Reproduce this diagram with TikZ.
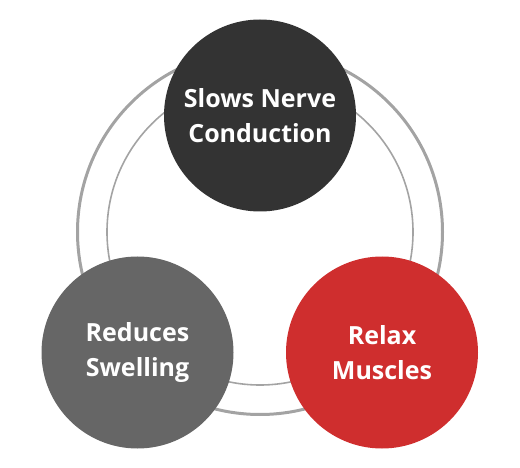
\documentclass[tikz,border=0pt]{standalone}
\usepackage{fontspec}
\setmainfont{Open Sans}
\definecolor{ringgray}{HTML}{A3A3A3}
\definecolor{topdark}{HTML}{333333}
\definecolor{leftgray}{HTML}{666666}
\definecolor{rightred}{HTML}{CF2E2E}
\begin{document}
\begin{tikzpicture}[x=1pt,y=-1pt,
  bubble/.style={circle,minimum size=192pt,inner sep=0pt,text=white,align=center,
    font=\fontsize{25}{35}\selectfont\bfseries},
  ring/.style={draw=ringgray}]
\useasboundingbox (0,0) rectangle (520,468);
\coordinate (c) at (260,232);
\draw[ring,line width=3pt] (c) circle[radius=182.5];
\draw[ring,line width=1.6pt] (c) circle[radius=153];
\node[bubble,fill=topdark] (top) at (260,115.5) {Slows Nerve\\Conduction};
\node[bubble,fill=leftgray] (left) at (137.5,352.5) {Reduces\\Swelling};
\node[bubble,fill=rightred] (right) at (382,352.5) {Relax\\Muscles};
\end{tikzpicture}
\end{document}
